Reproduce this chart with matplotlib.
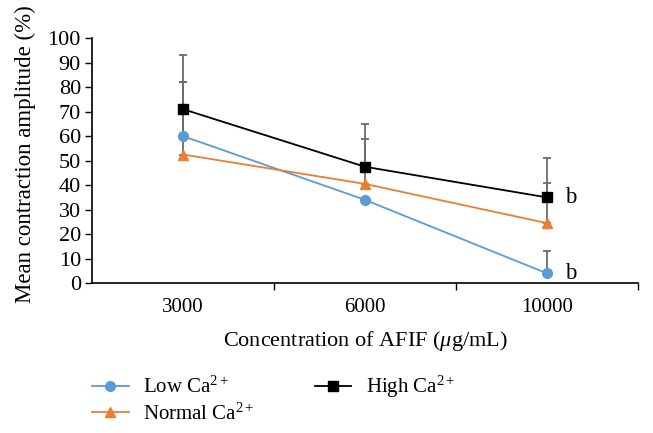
import numpy as np
import matplotlib.pyplot as plt

plt.rcParams['font.family'] = ['Liberation Serif', 'DejaVu Serif']
plt.rcParams['mathtext.fontset'] = 'custom'
plt.rcParams['mathtext.rm'] = 'Liberation Serif'
plt.rcParams['mathtext.it'] = 'Liberation Serif:italic'

# data
concentrations = ["3000", "6000", "10000"]
low_ca = [60, 34, 4]
low_err = [22, 0, 9]
normal_ca = [52.5, 40.5, 24.5]
normal_err = [29.5, 18.5, 16.5]
high_ca = [71, 47.5, 35]
high_err = [22, 17.5, 16]

FS = 15

fig = plt.figure(figsize=(6.53, 4.33), dpi=100)
ax = fig.add_axes([0.141, 0.346, 0.836, 0.566])

x = np.arange(1, len(concentrations) + 1)
err_style = dict(fmt="none", ecolor="#6b6b6b", elinewidth=1.3, capsize=3, capthick=1.3, zorder=1)


def upper_only(err):
    return [np.zeros(len(err)), np.array(err)]


ax.errorbar(x, low_ca, yerr=upper_only(low_err), **err_style)
ax.errorbar(x, normal_ca, yerr=upper_only(normal_err), **err_style)
ax.errorbar(x, high_ca, yerr=upper_only(high_err), **err_style)

ax.plot(x, low_ca, "-o", color="#5B9BD5", lw=1.3, ms=7, label="Low Ca$^{2+}$", zorder=3)
ax.plot(x, normal_ca, "-^", color="#ED7D31", lw=1.3, ms=7.5, label="Normal Ca$^{2+}$", zorder=3)
ax.plot(x, high_ca, "-s", color="black", lw=1.3, ms=6.5, label="High Ca$^{2+}$", zorder=4)

# "b" significance marks at the highest concentration
ax.text(x[2] + 0.1, high_ca[2], "b", fontsize=FS + 1.5, va="center", ha="left")
ax.text(x[2] + 0.1, low_ca[2], "b", fontsize=FS + 1.5, va="center", ha="left")

ax.set_xlim(0.5, 3.5)
ax.set_ylim(0, 100)
ax.set_yticks(np.arange(0, 101, 10))
ax.set_xticks(x)
ax.set_xticklabels(concentrations, fontsize=FS)
ax.set_xticks([1.5, 2.5, 3.5], minor=True)
ax.tick_params(axis="x", which="major", length=0, pad=11)
ax.tick_params(axis="x", which="minor", length=5, width=1, direction="out")
ax.tick_params(axis="y", labelsize=FS + 1, length=5, width=1, direction="out", pad=3)

for s in ["top", "right"]:
    ax.spines[s].set_visible(False)
for s in ["left", "bottom"]:
    ax.spines[s].set_linewidth(1.2)

ax.set_xlabel("Concentration of AFIF ($\\mathit{\\mu}$g/mL)", fontsize=FS + 1, labelpad=8)
ax.set_ylabel("Mean contraction amplitude (%)", fontsize=FS + 1.5)
ax.yaxis.set_label_coords(-0.103, 0.527)

fig.legend(loc="upper left", bbox_to_anchor=(0.141, 0.136), ncol=2, frameon=False,
           fontsize=FS, handlelength=1.75, handletextpad=0.7, columnspacing=2.9,
           labelspacing=0.25, borderpad=0, borderaxespad=0)

fig.savefig("out.png", dpi=100)
